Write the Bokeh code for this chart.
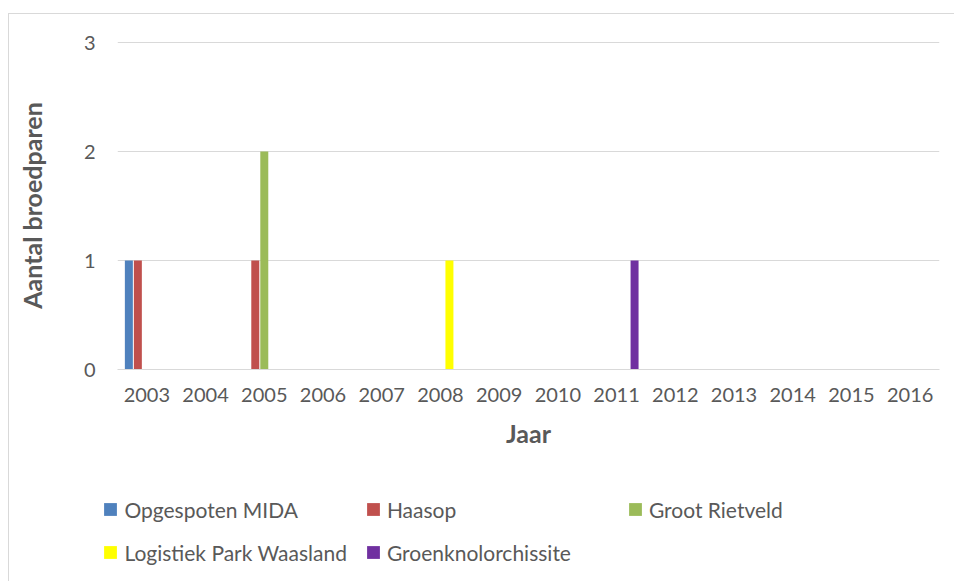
from bokeh.plotting import figure
from bokeh.models import (FactorRange, Range1d, FixedTicker, Legend, LegendItem,
                          ColumnDataSource)
from bokeh.transform import dodge
from bokeh.embed import file_html
from bokeh.resources import INLINE

years = [str(y) for y in range(2003, 2017)]
series_names = ["Opgespoten MIDA", "Haasop", "Groot Rietveld",
                "Logistiek Park Waasland", "Groenknolorchissite"]
opgespoten_mida = [1, 0, 0, 0, 0, 0, 0, 0, 0, 0, 0, 0, 0, 0]
haasop = [1, 0, 1, 0, 0, 0, 0, 0, 0, 0, 0, 0, 0, 0]
groot_rietveld = [0, 0, 2, 0, 0, 0, 0, 0, 0, 0, 0, 0, 0, 0]
logistiek_park = [0, 0, 0, 0, 0, 1, 0, 0, 0, 0, 0, 0, 0, 0]
groenknol = [0, 0, 0, 0, 0, 0, 0, 0, 1, 0, 0, 0, 0, 0]
y_ticks = [0, 1, 2, 3]
x_title = "Jaar"
y_title = "Aantal broedparen"

colors = ["#4f81bd", "#c0504d", "#9bbb59", "#ffff00", "#7030a0"]
values = [opgespoten_mida, haasop, groot_rietveld, logistiek_park, groenknol]

FONT = "Lato"
FS = "20px"
LFS = "21px"
TFS = "25px"
TXT = "#595959"

W = 946
H_MAIN = 457
H_LEG = 111

p = figure(width=W, height=H_MAIN, x_range=FactorRange(*years), y_range=Range1d(0, 3.01),
           output_backend="svg", toolbar_location=None,
           min_border_left=108, min_border_right=16, min_border_top=27,
           min_border_bottom=102)
p.margin = (13, 0, 0, 8)
p.styles = {"border-left": "1px solid #d9d9d9", "border-top": "1px solid #d9d9d9"}
p.x_range.range_padding = 0
p.outline_line_color = None
p.background_fill_color = "white"
p.border_fill_color = "white"

src = ColumnDataSource(dict(year=years, **{f"s{i}": v for i, v in enumerate(values)}))
slot = 0.1533
for i, (name, c) in enumerate(zip(series_names, colors)):
    p.vbar(x=dodge("year", (i - 2) * slot, range=p.x_range), top=f"s{i}", width=0.136,
           source=src, fill_color=c, line_color=None)

p.xgrid.grid_line_color = None
p.ygrid.grid_line_color = "#d9d9d9"
p.ygrid.grid_line_width = 1

p.yaxis.ticker = FixedTicker(ticks=y_ticks)
p.yaxis.axis_line_color = None
p.yaxis.major_tick_line_color = None
p.yaxis.minor_tick_line_color = None
p.yaxis.major_tick_out = 0
p.yaxis.major_label_standoff = 22
p.yaxis.axis_label = y_title
p.yaxis.axis_label_standoff = 34

p.xaxis.axis_line_color = "#d9d9d9"
p.xaxis.major_tick_line_color = None
p.xaxis.major_tick_out = 0
p.xaxis.major_label_standoff = 18
p.xaxis.axis_label = x_title
p.xaxis.axis_label_standoff = 13

for ax in (p.xaxis, p.yaxis):
    ax.major_label_text_font = FONT
    ax.major_label_text_font_size = FS
    ax.major_label_text_color = TXT
    ax.axis_label_text_font = FONT
    ax.axis_label_text_font_size = TFS
    ax.axis_label_text_font_style = "bold"
    ax.axis_label_text_color = TXT

# legend figure (frame covers the whole figure, no axes)
p2 = figure(width=W, height=H_LEG, x_range=FactorRange(*years), y_range=Range1d(0, 3),
            output_backend="svg", toolbar_location=None,
            x_axis_type=None, y_axis_type=None,
            min_border=0, min_border_left=0, min_border_right=0,
            min_border_top=0, min_border_bottom=0)
p2.margin = (0, 0, 0, 8)
p2.styles = {"border-left": "1px solid #d9d9d9"}
p2.outline_line_color = None
p2.xgrid.visible = False
p2.ygrid.visible = False
p2.border_fill_color = "white"
legend_renderers = []
for i, (name, c) in enumerate(zip(series_names, colors)):
    r = p2.vbar(x=dodge("year", (i - 2) * slot, range=p2.x_range), top=f"s{i}", width=0.136,
                source=src, fill_color=c, line_color=None, visible=False)
    legend_renderers.append(r)

items = [LegendItem(label=n, renderers=[r]) for n, r in zip(series_names, legend_renderers)]
lg = Legend(items=items, location=(93.4, 16.5), orientation="horizontal", ncols=3,
            border_line_color=None, background_fill_alpha=0,
            padding=0, margin=0, spacing=18,
            glyph_width=16, glyph_height=16, label_standoff=6,
            label_width=222, label_height=20,
            label_text_font=FONT, label_text_font_size=LFS,
            label_text_color=TXT)
p2.add_layout(lg, "center")

open("out.html", "w").write(file_html([p, p2], INLINE))
